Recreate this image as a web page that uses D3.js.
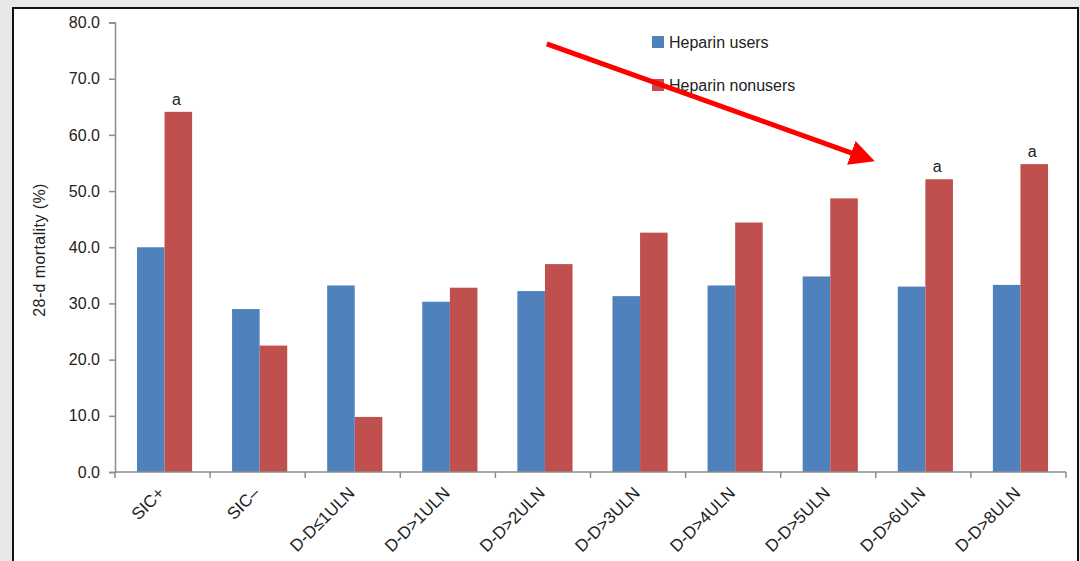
<!DOCTYPE html>
<html>
<head>
<meta charset="utf-8">
<script src="https://cdn.jsdelivr.net/npm/d3@7/dist/d3.min.js"></script>
<style>
  html, body { margin: 0; padding: 0; background: #e8e8e8; }
  svg { display: block; }
  text { font-family: "Liberation Sans", Arial, Helvetica, sans-serif; fill: #222; }
</style>
</head>
<body>
<svg id="chart" width="1080" height="561"></svg>
<script>
const categories = ["SIC+", "SIC\u2013", "D-D\u22641ULN", "D-D>1ULN", "D-D>2ULN", "D-D>3ULN", "D-D>4ULN", "D-D>5ULN", "D-D>6ULN", "D-D>8ULN"];
const seriesNames = ["Heparin users", "Heparin nonusers"];
const heparinUsers = [40.0, 29.0, 33.2, 30.3, 32.2, 31.3, 33.2, 34.8, 33.0, 33.3];
const heparinNonusers = [64.1, 22.5, 9.8, 32.8, 37.0, 42.6, 44.4, 48.7, 52.1, 54.8];
const significance = ["a", "", "", "", "", "", "", "", "a", "a"];
const yTicks = [0, 10, 20, 30, 40, 50, 60, 70, 80];
const yTitle = "28-d mortality (%)";
// arrow annotation in data space: [category index position, value]
const arrowFrom = [4.54, 76.2];
const arrowTo = [7.99, 55.3];

(function () {
const colors = ["#4F81BD", "#C0504D"];
const svg = d3.select("#chart");

// panel
svg.append("rect").attr("x", 13).attr("y", 8).attr("width", 1065).attr("height", 570)
  .attr("fill", "#fff").attr("stroke", "#111").attr("stroke-width", 2);

const pL = 115, pR = 1066, pT = 22.5, pB = 472;

const y = d3.scaleLinear().domain([0, 80]).range([pB, pT]);
const x0 = d3.scaleBand().domain(categories).range([pL + 2, pR + 2]).paddingInner(0.42).paddingOuter(0.21);
const x1 = d3.scaleBand().domain(seriesNames).range([0, x0.bandwidth()]);
const xIdx = d3.scaleLinear().domain([0, categories.length]).range([pL, pR]);

const rows = categories.map((c, i) => ({ cat: c, vals: [heparinUsers[i], heparinNonusers[i]], sig: significance[i] }));

// bars
const g = svg.append("g");
const groups = g.selectAll("g.grp").data(rows).join("g").attr("class", "grp")
  .attr("transform", d => `translate(${x0(d.cat)},0)`);
groups.selectAll("rect").data(d => d.vals.map((v, k) => ({ name: seriesNames[k], v, k })))
  .join("rect")
  .attr("x", d => x1(d.name)).attr("width", x1.bandwidth())
  .attr("y", d => y(d.v)).attr("height", d => y(0) - y(d.v))
  .attr("fill", d => colors[d.k]);

// significance labels
groups.filter(d => d.sig).append("text")
  .attr("x", x1(seriesNames[1]) + x1.bandwidth() / 2 - 2)
  .attr("y", d => y(d.vals[1]) - 7)
  .attr("text-anchor", "middle").attr("font-size", 16)
  .text(d => d.sig);

// y axis
const yAxis = d3.axisLeft(y).tickValues(yTicks).tickFormat(d3.format(".1f")).tickSize(6).tickPadding(9);
const ya = svg.append("g").attr("transform", `translate(${pL},0)`).call(yAxis);
ya.select(".domain").attr("stroke", "#8c8c8c").attr("stroke-width", 1.5);
ya.selectAll(".tick line").attr("stroke", "#8c8c8c").attr("stroke-width", 1.5);
ya.selectAll(".tick text").attr("font-size", 16).attr("fill", "#222")
  .attr("font-family", "Liberation Sans, Arial, sans-serif");

// x axis (ticks at category boundaries)
const boundaries = d3.range(categories.length + 1).map(i => xIdx(i));
const xa = svg.append("g");
xa.append("line").attr("x1", pL).attr("x2", pR).attr("y1", pB).attr("y2", pB)
  .attr("stroke", "#8c8c8c").attr("stroke-width", 1.5);
xa.selectAll("line.tk").data(boundaries).join("line").attr("class", "tk")
  .attr("x1", d => d).attr("x2", d => d).attr("y1", pB).attr("y2", pB + 6)
  .attr("stroke", "#8c8c8c").attr("stroke-width", 1.5);
xa.selectAll("text").data(categories).join("text")
  .attr("transform", d => `translate(${x0(d) + x0.bandwidth() / 2 + 1},${pB + 22}) rotate(-45)`)
  .attr("text-anchor", "end").attr("font-size", 17)
  .text(d => d);

// y title
svg.append("text")
  .attr("transform", `translate(45,250) rotate(-90)`)
  .attr("text-anchor", "middle").attr("font-size", 16).attr("letter-spacing", 0.4)
  .text(yTitle);

// legend
const lg = svg.append("g");
seriesNames.forEach((n, k) => {
  const ly = 42 + k * 43;
  lg.append("rect").attr("x", 652).attr("y", ly - 6).attr("width", 12).attr("height", 12).attr("fill", colors[k]);
  lg.append("text").attr("x", 669).attr("y", ly).attr("dy", "0.35em").attr("font-size", 16).text(n);
});

// red arrow annotation
const defs = svg.append("defs");
defs.append("marker").attr("id", "ah").attr("viewBox", "0 0 10 10").attr("refX", 2).attr("refY", 5)
  .attr("markerWidth", 5).attr("markerHeight", 5).attr("orient", "auto")
  .append("path").attr("d", "M0,0 L10,5 L0,10 z").attr("fill", "#ff0000");
const ax1 = xIdx(arrowFrom[0]), ay1 = y(arrowFrom[1]);
const ax2 = xIdx(arrowTo[0]), ay2 = y(arrowTo[1]);
const len = Math.hypot(ax2 - ax1, ay2 - ay1);
const shorten = 20;
svg.append("line")
  .attr("x1", ax1).attr("y1", ay1)
  .attr("x2", ax2 - (ax2 - ax1) / len * shorten).attr("y2", ay2 - (ay2 - ay1) / len * shorten)
  .attr("stroke", "#ff0000").attr("stroke-width", 5).attr("marker-end", "url(#ah)");
})();
</script>
</body>
</html>
